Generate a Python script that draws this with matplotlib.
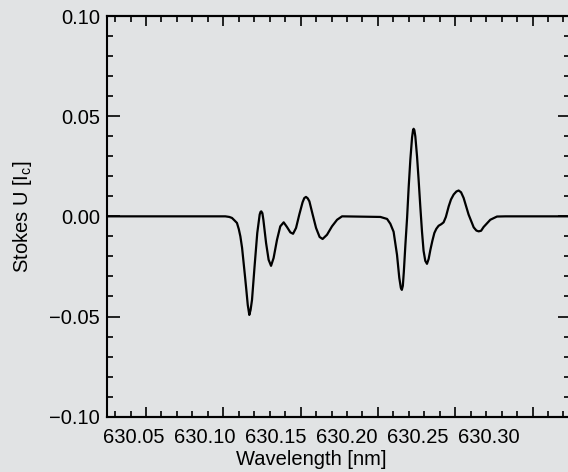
import matplotlib.pyplot as plt
from matplotlib.ticker import FixedLocator, MultipleLocator, FormatStrFormatter, FuncFormatter

plt.rcParams['font.family'] = ['Liberation Sans', 'DejaVu Sans']

# Stokes U profile (wavelength in nm, U in units of I_c)
wavelength = [630.0300, 630.1143, 630.1171, 630.1190, 630.1210, 630.1225, 630.1238, 630.1249,
              630.1261, 630.1272, 630.1282, 630.1291, 630.1301,
              630.1312, 630.1321, 630.1331, 630.1349, 630.1368, 630.1385, 630.1391, 630.1396,
              630.1404, 630.1411, 630.1430, 630.1448, 630.1465, 630.1483, 630.1507, 630.1530,
              630.1554, 630.1577, 630.1601, 630.1620, 630.1641, 630.1664, 630.1687, 630.1699,
              630.1711, 630.1723,
              630.1735, 630.1758, 630.1782, 630.1807, 630.1828, 630.1859, 630.1894, 630.1930,
              630.1965,
              630.2235, 630.2282, 630.2305, 630.2328, 630.2352, 630.2368, 630.2379, 630.2386,
              630.2393, 630.2400, 630.2411, 630.2423, 630.2434, 630.2446, 630.2458, 630.2465,
              630.2469, 630.2474, 630.2481, 630.2493, 630.2504, 630.2516, 630.2528, 630.2539,
              630.2551, 630.2563, 630.2575, 630.2587, 630.2601, 630.2615, 630.2629, 630.2645,
              630.2664, 630.2680, 630.2696,
              630.2716, 630.2732, 630.2751, 630.2770, 630.2786, 630.2803, 630.2821, 630.2856,
              630.2892, 630.2911, 630.2927, 630.2944, 630.2962,
              630.3009, 630.3056, 630.3115, 630.3600]
stokes_u = [0.0, 0.0, -0.0003, -0.0008, -0.0022, -0.0033, -0.0064, -0.0100,
            -0.0157, -0.0233, -0.0302, -0.0367, -0.0442,
            -0.0492, -0.0467, -0.0417, -0.0250, -0.0083, 0.0009, 0.0022, 0.0025,
            0.0016, -0.0017, -0.0133, -0.0217, -0.0247, -0.0208, -0.0117, -0.0050,
            -0.0030, -0.0053, -0.0080, -0.0087, -0.0058, 0.0009, 0.0070, 0.0091,
            0.0097, 0.0090,
            0.0075, 0.0009, -0.0058, -0.0103, -0.0113, -0.0092, -0.0050, -0.0017,
            0.0,
            -0.0003, -0.0013, -0.0037, -0.0077, -0.0192, -0.0307, -0.0357, -0.0367,
            -0.0347, -0.0277, -0.0142, -0.0007, 0.0144, 0.0284, 0.0394, 0.0431,
            0.0437, 0.0431, 0.0399, 0.0299, 0.0184, 0.0049, -0.0077, -0.0172,
            -0.0222, -0.0237, -0.0212, -0.0167, -0.0122, -0.0083, -0.0062, -0.0047,
            -0.0039, -0.0030, -0.0003,
            0.0050, 0.0084, 0.0109, 0.0124, 0.0129, 0.0120, 0.0092, 0.0009,
            -0.0055, -0.0071, -0.0075, -0.0072, -0.0053,
            -0.0017, -0.0001, 0.0, 0.0]

xtick_values = [630.05, 630.10, 630.15, 630.20, 630.25, 630.30]
ytick_values = [-0.10, -0.05, 0.00, 0.05, 0.10]

bg = '#e1e3e4'
fs = 14.5

fig = plt.figure(figsize=(5.68, 4.72), dpi=100, facecolor=bg)
ax = fig.add_axes([0.1889, 0.1172, 0.8146, 0.8489], facecolor=bg)
ax.plot(wavelength, stokes_u, color='black', lw=1.6)

ax.set_xlim(630.0312, 630.357)
ax.set_ylim(-0.10, 0.10)

# x labels sit at the label positions, no tick marks on the main axis
ax.xaxis.set_major_locator(FixedLocator(xtick_values))
ax.xaxis.set_major_formatter(FormatStrFormatter('%.2f'))
ax.tick_params(axis='x', which='both', length=0, pad=8.5, labelsize=fs, top=False)

ax.yaxis.set_major_locator(FixedLocator(ytick_values))
ax.yaxis.set_minor_locator(MultipleLocator(0.01))
ax.yaxis.set_major_formatter(FuncFormatter(lambda v, pos: f'{v:.2f}'.replace('-', '\u2212')))
ax.tick_params(axis='y', which='both', direction='in', left=True, right=True, width=1.2,
               labelsize=fs, pad=5.3)
ax.tick_params(axis='y', which='major', length=9)
ax.tick_params(axis='y', which='minor', length=4.5)

for s in ax.spines.values():
    s.set_linewidth(1.5)


# in the original the tick marks run on a slightly wider scale than the labels
def to_marks(x):
    return 630.05 + ((x - 630.05) * 1420 - 12) / 1546


def from_marks(t):
    return 630.05 + ((t - 630.05) * 1546 + 12) / 1420


for side in ['bottom', 'top']:
    sec = ax.secondary_xaxis(side, functions=(to_marks, from_marks))
    sec.xaxis.set_major_locator(FixedLocator(xtick_values))
    sec.xaxis.set_minor_locator(MultipleLocator(0.01))
    sec.tick_params(axis='x', which='both', direction='in', width=1.2,
                    labelbottom=False, labeltop=False)
    sec.tick_params(axis='x', which='major', length=7.5)
    sec.tick_params(axis='x', which='minor', length=4)
    for s in sec.spines.values():
        s.set_linewidth(1.5)

ax.set_xlabel('Wavelength [nm]', fontsize=fs)
ax.xaxis.set_label_coords(0.4413, -0.084)
ax.set_ylabel('Stokes U [I$_\\mathregular{c}$]', fontsize=fs)
ax.yaxis.set_label_coords(-0.158, 0.5)

fig.savefig('out.png', dpi=100, facecolor=bg)
